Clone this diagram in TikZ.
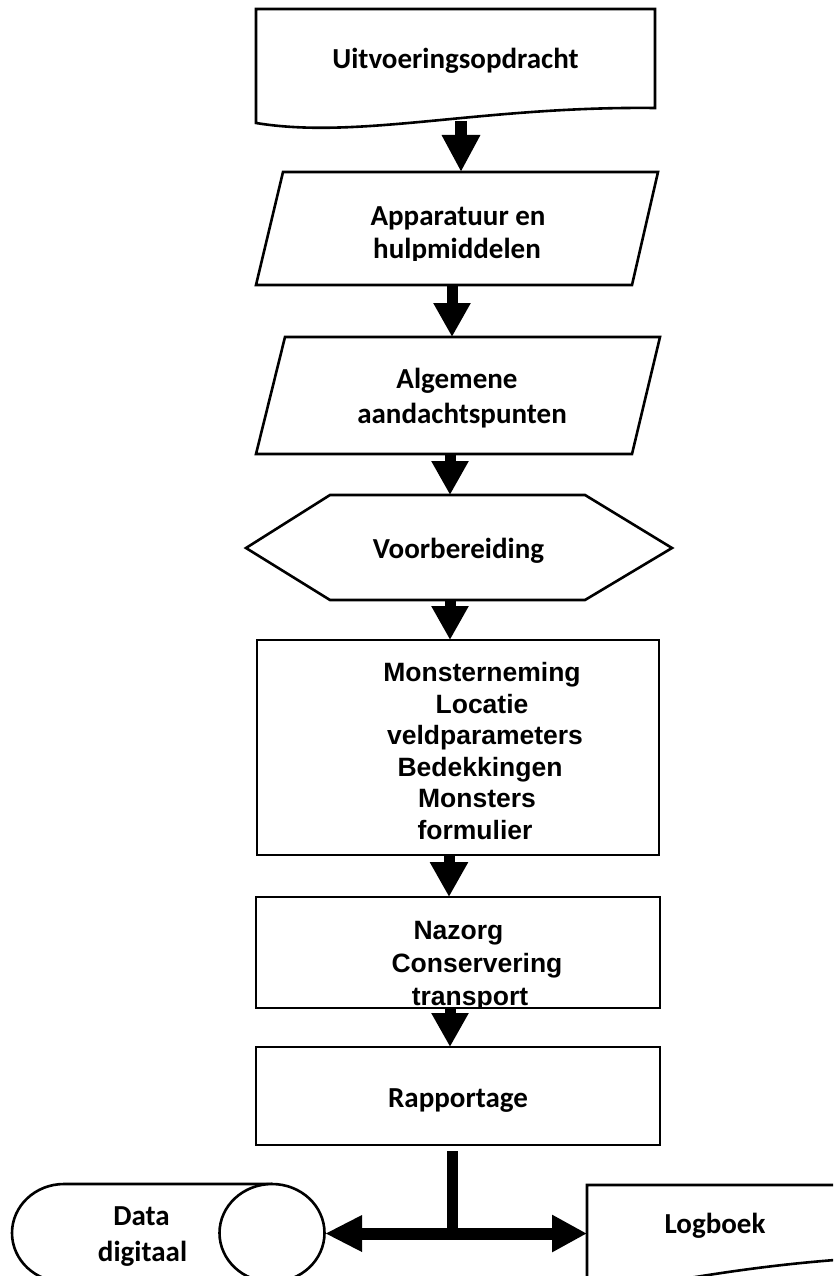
\documentclass[tikz,border=0pt]{standalone}
\usepackage{fontspec}
\setmainfont{Carlito}
\newfontfamily\arialf{Liberation Sans}
\usetikzlibrary{arrows.meta}
\begin{document}
\begin{tikzpicture}[x=1pt,y=-1pt,
  shp/.style={draw=black, line width=2.6pt, fill=white, line join=miter},
  ctxt/.style={font=\fontsize{29}{33}\selectfont\bfseries, inner sep=0pt, anchor=base},
  atxt/.style={font=\arialf\fontsize{26.5}{31}\selectfont\bfseries, inner sep=0pt, anchor=base},
  blockarrow/.style={line width=11pt, -{Triangle[width=35pt,length=34pt]}}]
\useasboundingbox (0,0) rectangle (833,1276);
\clip (0,0) rectangle (833,1276);
\fill[white] (0,0) rectangle (833,1276);

% shapes
\draw[shp] (256,9) -- (655,9) -- (655,108) .. controls (480,106) and (360,140) .. (256,123) -- cycle;
\draw[shp] (283,172) -- (658,172) -- (632,285) -- (256,285) -- cycle;
\draw[shp] (285,337) -- (660,337) -- (632,454) -- (256,454) -- cycle;
\draw[shp] (246,548) -- (330,495) -- (585,495) -- (672,548) -- (585,600) -- (330,600) -- cycle;
\draw[shp] (257,640) rectangle (659,855);
\draw[shp] (256,897) rectangle (660,1008);
\draw[shp] (256,1047) rectangle (660,1145);
\draw[shp] (272,1184) -- (64,1184) arc[start angle=-90, end angle=-270, x radius=52, y radius=49] -- (272,1282);
\draw[shp] (272,1233) ellipse [x radius=52.5, y radius=49];
\draw[shp] (587,1288) .. controls (660,1290) and (720,1264) .. (900,1256) -- (990,1254) -- (990,1185) -- (587,1185) -- cycle;

% connection points
\coordinate (docS) at (461,121);
\coordinate (p1N) at (461,172);
\coordinate (p1S) at (452,285);
\coordinate (p2N) at (452,337);
\coordinate (p2S) at (450,454);
\coordinate (hexN) at (450,495);
\coordinate (hexS) at (450,600);
\coordinate (monN) at (450,640);
\coordinate (monS) at (449,855);
\coordinate (nazN) at (449,897);
\coordinate (nazS) at (450,1008);
\coordinate (rapN) at (450,1047);
\coordinate (rapS) at (452,1151);
\coordinate (junc) at (452,1233.5);
\coordinate (dataE) at (325,1233.5);
\coordinate (logW) at (587,1233.5);

% texts
\node[ctxt] (t1) at (455.5,69) {Uitvoeringsopdracht};
\node[ctxt] (t2a) at (458,225) {Apparatuur en};
\begin{scope}
  \clip (256,200) rectangle (660,260.5);
  \node[ctxt] (t2b) at (457,258) {hulpmiddelen};
\end{scope}
\node[ctxt] (t3a) at (457,388) {Algemene};
\node[ctxt] (t3b) at (462,423) {aandachtspunten};
\node[ctxt] (t4) at (458.5,558) {Voorbereiding};
\node[atxt] (t5a) at (482,681.5) {Monsterneming};
\node[atxt] (t5b) at (482,713) {Locatie};
\node[atxt] (t5c) at (485,744.5) {veldparameters};
\node[atxt] (t5d) at (480,776) {Bedekkingen};
\node[atxt] (t5e) at (477,807.5) {Monsters};
\node[atxt] (t5f) at (475,839) {formulier};
\node[atxt] (t6a) at (458.5,939) {Nazorg};
\node[atxt] (t6b) at (477,972) {Conservering};
\begin{scope}
  \clip (256,980) rectangle (660,1007.5);
  \node[atxt] (t6c) at (470,1005) {transport};
\end{scope}
\node[ctxt] (t7) at (458,1107) {Rapportage};
\node[ctxt] (t8a) at (141.5,1225) {Data};
\node[ctxt] (t8b) at (142.5,1261) {digitaal};
\node[ctxt] (t9) at (715,1233) {Logboek};

% connectors
\draw[blockarrow, line width=12pt, -{Triangle[width=36pt,length=37pt]}] (docS) -- (p1N);
\draw[blockarrow] (p1S) -- (p2N);
\draw[blockarrow] (p2S) -- (hexN);
\draw[blockarrow] (hexS) -- (monN);
\draw[blockarrow, -{Triangle[width=36pt,length=35pt]}] (monS) -- (nazN);
\draw[blockarrow] (nazS) -- (rapN);
\draw[line width=11pt] (rapS) -- (junc);
\draw[line width=12pt, -{Triangle[width=34pt,length=37pt]}] (junc) -- (dataE);
\draw[line width=12pt, -{Triangle[width=35pt,length=35pt]}] (junc) -- (logW);
\end{tikzpicture}
\end{document}
